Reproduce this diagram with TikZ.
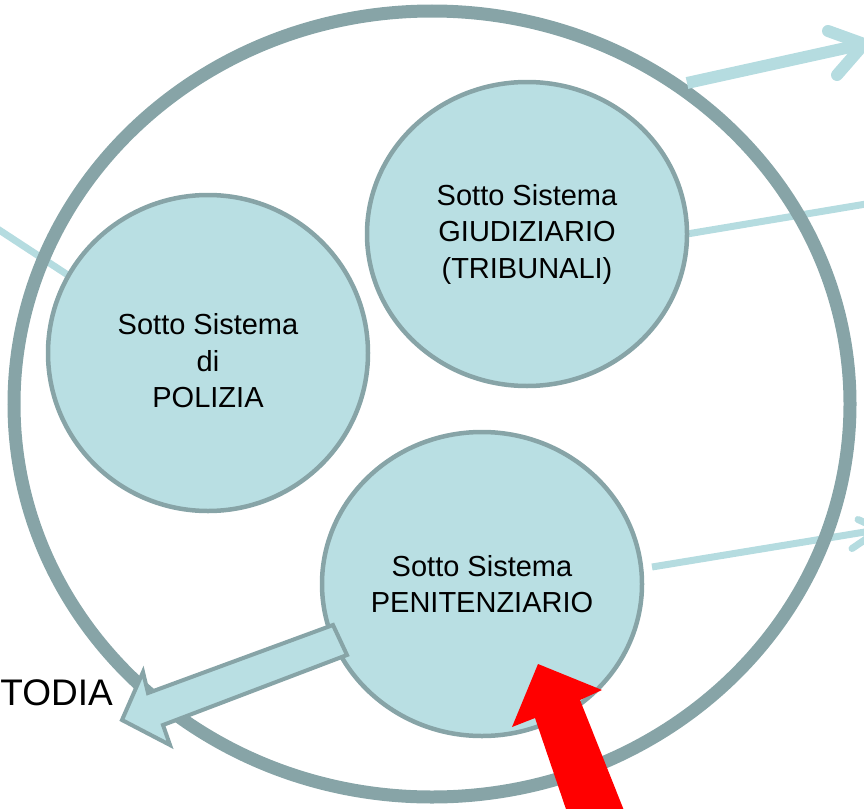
\documentclass[tikz,border=0pt]{standalone}
\usepackage{fontspec}
\setmainfont{Liberation Sans}
\usetikzlibrary{shapes.geometric,calc}
\definecolor{fillblue}{RGB}{185,223,227}
\definecolor{lineblue}{RGB}{181,220,224}
\definecolor{rim}{RGB}{135,164,167}
\definecolor{redarrow}{RGB}{255,0,0}
\begin{document}
\begin{tikzpicture}[x=1pt,y=-1pt,
  sub/.style={ellipse, draw=rim, line width=4.5pt, fill=fillblue,
    minimum width=320pt, minimum height=304pt, inner sep=0pt, outer sep=0pt,
    align=center, font=\fontsize{29}{36.5}\selectfont},
  subtext/.style={align=center, inner sep=0pt, font=\fontsize{29}{36.5}\selectfont},
  outerring/.style={ellipse, draw=rim, line width=13pt,
    minimum width=836pt, minimum height=786pt, inner sep=0pt, outer sep=0pt},
  link/.style={draw=lineblue, line width=7pt},
  thicklink/.style={draw=lineblue, line width=12pt, line cap=round, line join=round},
  blockarrow/.style={draw=rim, line width=4pt, fill=fillblue, line join=miter},
  redblock/.style={fill=redarrow},
  caption/.style={inner sep=0pt, font=\fontsize{37}{37}\selectfont}]
\useasboundingbox (0,0) rectangle (864,808);
\clip (0,0) rectangle (864,808);

% positions
\coordinate (sysc) at (432,404);
\coordinate (polc) at (208,353);
\coordinate (giuc) at (527,234);
\coordinate (penc) at (482,584);

% free ends of connectors (outside the picture)
\coordinate (leftfar) at (-10,224);
\coordinate (giufar) at (872,203);
\coordinate (penstart) at (652,567);
\coordinate (pentip) at (880,529.5);
\coordinate (topstart) at (687,83);
\coordinate (toptip) at (864,44);

% thin links behind the ring
\draw[link] (leftfar) -- (80,283) coordinate (leftend);
\draw[link] (giuc) ++(160,0) coordinate (giustart) -- (giufar);
\draw[link] (penstart) -- (pentip);
\draw[link, line cap=round] ($(pentip)+(-22,-10)$) -- (pentip) -- ($(pentip)+(-28,19)$);

% outer ring
\node[outerring] (sys) at (sysc) {};

% top right arrow
\draw[thicklink, line cap=butt] (topstart) -- (toptip);
\draw[thicklink] (828,31) -- (toptip) -- (837,75);

% sub-systems
\node[sub, minimum height=316pt] (pol) at (polc) {};
\node[subtext] (poltext) at ($(polc)+(0,8)$) {Sotto Sistema\\di\\POLIZIA};
\node[sub] (giu) at (giuc) {Sotto Sistema\\GIUDIZIARIO\\(TRIBUNALI)};
\node[sub] (pen) at (penc) {Sotto Sistema\\PENITENZIARIO};

% caption on the left
\node[caption, anchor=base east] (custodia) at (113,705) {TODIA};

% block arrow from PENITENZIARIO to the caption
\draw[blockarrow] (333,625) -- (148,693) -- (143,672) -- (122,720) -- (170,745) -- (163,725) -- (347,655) -- cycle;

% red arrow into PENITENZIARIO
\fill[redblock] (538,664) -- (602,690) -- (580,700) -- (627,818) -- (569,818) -- (535,718) -- (512,727) -- cycle;
\end{tikzpicture}
\end{document}
